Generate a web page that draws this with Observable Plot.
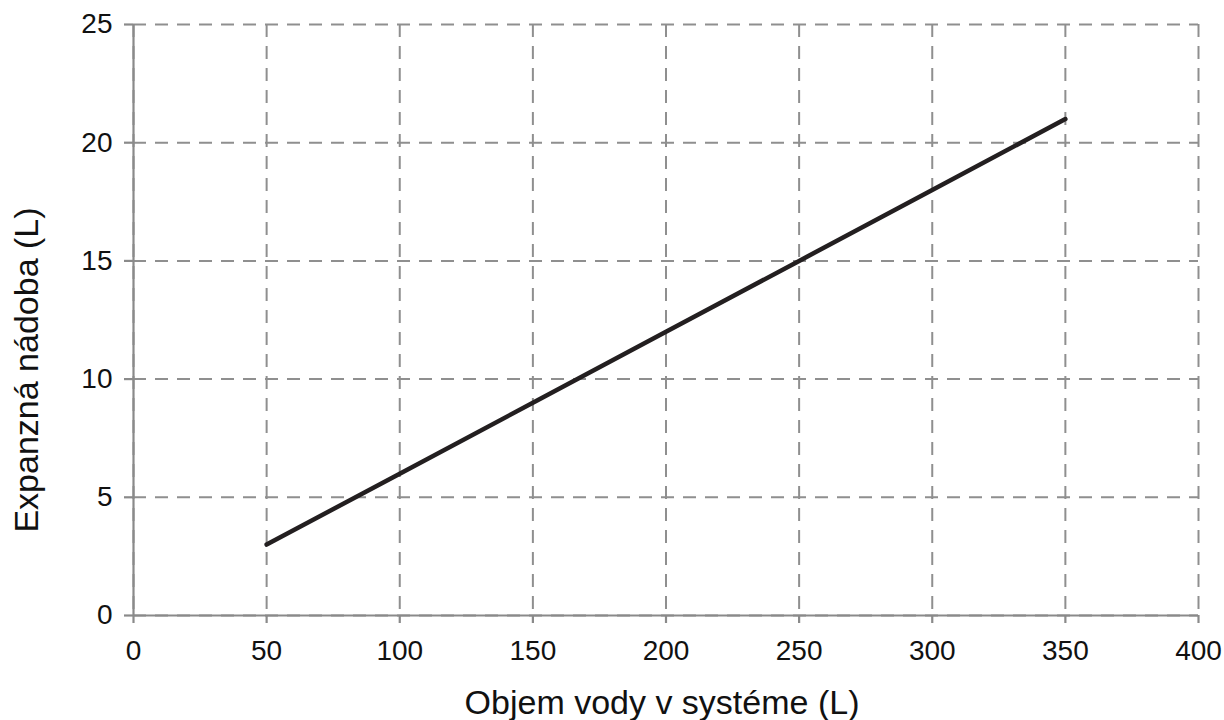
<!DOCTYPE html>
<html>
<head>
<meta charset="utf-8">
<script src="https://cdn.jsdelivr.net/npm/d3@7"></script>
<script src="https://cdn.jsdelivr.net/npm/@observablehq/plot@0.6"></script>
<style>
  html, body { margin: 0; padding: 0; background: #fff; }
</style>
</head>
<body>
<div id="chart"></div>
<script>
const volume = [50, 100, 150, 200, 250, 300, 350];
const vessel = [3, 6, 9, 12, 15, 18, 21];
const xTicks = [0, 50, 100, 150, 200, 250, 300, 350, 400];
const yTicks = [0, 5, 10, 15, 20, 25];
const xLabel = "Objem vody v systéme (L)";
const yLabel = "Expanzná nádoba (L)";

const data = volume.map((v, i) => ({x: v, y: vessel[i]}));

const gridColor = "#8f8f8f";
const axisColor = "#8a8a8a";
const textColor = "#111111";

const chart = Plot.plot({
  width: 1224,
  height: 720,
  marginLeft: 133,
  marginRight: 26,
  marginTop: 24,
  marginBottom: 105,
  style: {fontFamily: "'Liberation Sans', Arial, sans-serif", fontSize: "28px", background: "#fff", color: textColor},
  x: {domain: [0, 400]},
  y: {domain: [0, 25]},
  marks: [
    Plot.gridX(xTicks, {stroke: gridColor, strokeOpacity: 1, strokeWidth: 2, strokeDasharray: "13,9"}),
    Plot.gridY(yTicks, {stroke: gridColor, strokeOpacity: 1, strokeWidth: 2, strokeDasharray: "13,9"}),
    Plot.ruleX([0], {stroke: axisColor, strokeWidth: 2.2}),
    Plot.ruleY([0], {stroke: axisColor, strokeWidth: 2.2}),
    Plot.axisX(xTicks, {label: null, tickSize: 8, tickPadding: 17, stroke: axisColor, strokeWidth: 2.2, fill: textColor, fontSize: 28}),
    Plot.axisY(yTicks, {label: null, tickSize: 9, tickPadding: 12, stroke: axisColor, strokeWidth: 2.2, fill: textColor, fontSize: 28}),
    Plot.line(data, {x: "x", y: "y", stroke: "#231f20", strokeWidth: 4.5, strokeLinecap: "round"}),
    Plot.text([xLabel], {frameAnchor: "bottom", lineAnchor: "middle", textAnchor: "middle", text: d => d, dy: 88, dx: -4, fontSize: 34, fill: textColor}),
    Plot.text([yLabel], {frameAnchor: "left", lineAnchor: "middle", textAnchor: "middle", text: d => d, rotate: -90, dx: -106, dy: 50, fontSize: 34, fill: textColor})
  ]
});

document.getElementById("chart").appendChild(chart);
</script>
</body>
</html>
